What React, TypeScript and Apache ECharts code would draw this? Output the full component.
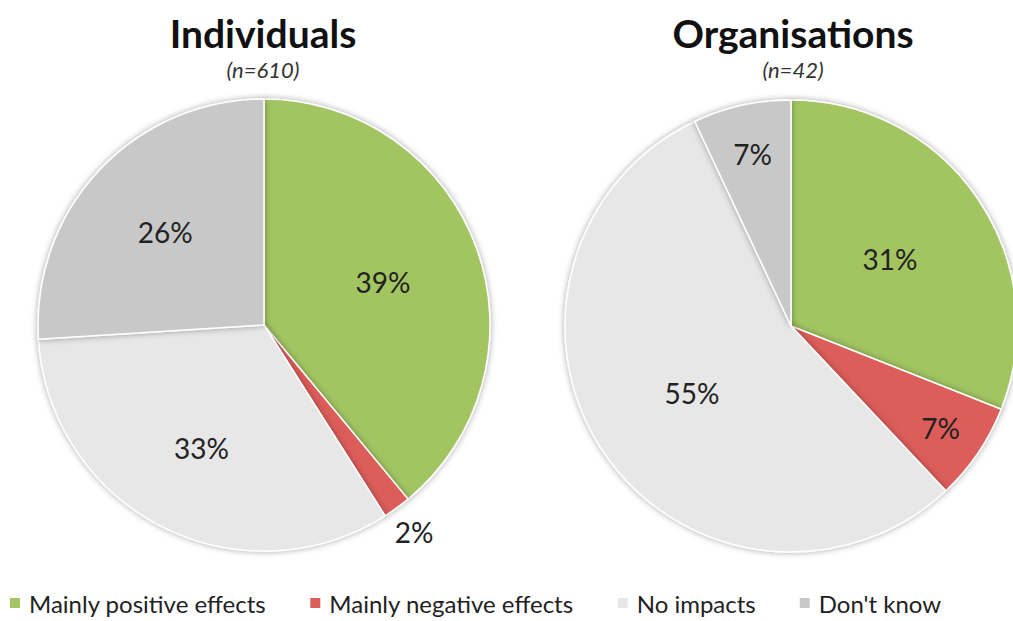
import React, { useEffect, useRef } from "react";
import * as echarts from "echarts";

const categories = ["Mainly positive effects", "Mainly negative effects", "No impacts", "Don't know"];
const individualsValues = [39, 2, 33, 26];
const organisationsValues = [31, 7, 55, 7];
const chartTitles = ["Individuals", "Organisations"];
const chartSubtitles = ["(n=610)", "(n=42)"];

const colors = ["#A2C562", "#DC5D5A", "#E7E7E7", "#C8C8C8"];
const FONT = "Lato, 'Open Sans', sans-serif";

const pies = [
  { cx: 264, cy: 325, r: 226, values: individualsValues, dist: [0.56, 1.13, 0.61, 0.6] },
  { cx: 791, cy: 326, r: 226, values: organisationsValues, dist: [0.53, 0.8, 0.53, 0.78] },
];

export default function App() {
  const ref = useRef<HTMLDivElement>(null);
  useEffect(() => {
    document.body.style.margin = "0";
    const chart = echarts.init(ref.current!, null, { renderer: "svg" });
    const series = pies.map((p) => {
      const total = p.values.reduce((a, b) => a + b, 0);
      return {
        type: "pie",
        center: [p.cx, p.cy],
        radius: [0, p.r],
        startAngle: 90,
        clockwise: true,
        avoidLabelOverlap: false,
        itemStyle: {
          borderColor: "#ffffff",
          borderWidth: 1.5,
          shadowBlur: 6,
          shadowColor: "rgba(0,0,0,0.35)",
        },
        label: {
          show: true,
          position: "inside",
          formatter: "{c}%",
          fontFamily: FONT,
          fontSize: 28,
          color: "#222222",
        },
        labelLine: { show: false },
        labelLayout: (params: any) => {
          const i = params.dataIndex;
          let cum = 0;
          for (let k = 0; k < i; k++) cum += p.values[k];
          const theta = (2 * Math.PI * (cum + p.values[i] / 2)) / total;
          const d = p.dist[i] * p.r;
          return {
            x: p.cx + Math.sin(theta) * d,
            y: p.cy - Math.cos(theta) * d,
            align: "center",
            verticalAlign: "middle",
          };
        },
        emphasis: { disabled: true },
        data: categories.map((name, i) => ({
          name,
          value: p.values[i],
          itemStyle: { color: colors[i] },
        })),
      };
    });
    chart.setOption({
      animation: false,
      color: colors,
      title: pies.map((p, i) => ({
        text: chartTitles[i],
        subtext: chartSubtitles[i],
        left: i === 0 ? 258 : 788,
        top: 8,
        textAlign: "center",
        itemGap: 6,
        textStyle: { fontFamily: FONT, fontWeight: "bold", fontSize: 39, color: "#111111" },
        subtextStyle: { fontFamily: FONT, fontStyle: "italic", fontSize: 22, color: "#333333" },
      })),
      legend: {
        left: 3,
        top: 585,
        itemWidth: 12,
        itemHeight: 12,
        itemGap: 42,
        icon: "rect",
        data: categories,
        textStyle: { fontFamily: FONT, fontSize: 24, lineHeight: 26, color: "#222222", padding: [0, 0, 0, 3] },
        selectedMode: false,
      },
      series,
    });
    return () => chart.dispose();
  }, []);
  return <div ref={ref} style={{ width: 1013, height: 621 }} />;
}
